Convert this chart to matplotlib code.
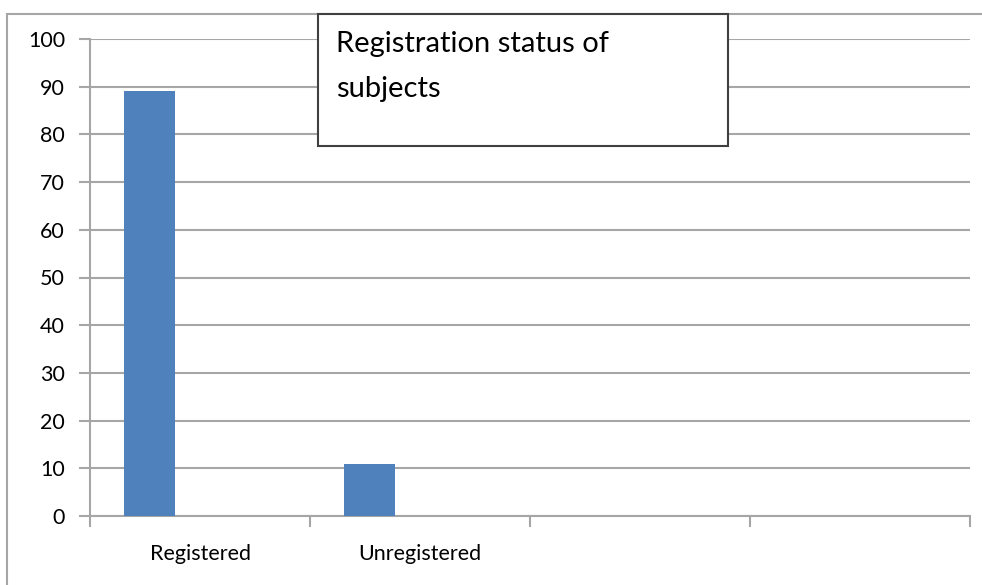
import matplotlib
matplotlib.use("Agg")
import matplotlib.pyplot as plt
from matplotlib.patches import Rectangle

# chart values
categories = ["Registered", "Unregistered", "", ""]
counts = [89, 11, None, None]
y_ticks = [0, 10, 20, 30, 40, 50, 60, 70, 80, 90, 100]
title_text = "Registration status of\nsubjects"

bar_color = "#4f81bd"
grid_color = "#a6a6a6"

plt.rcParams["font.family"] = ["Lato", "DejaVu Sans"]

fig = plt.figure(figsize=(9.82, 5.85), dpi=100)
W, H = 982, 585

# outer chart frame (cut off on the right and bottom)
fig.patches.append(Rectangle((7 / W, -0.1), 1.2, 1 - 14 / H + 0.1,
                             transform=fig.transFigure, fill=False,
                             edgecolor=grid_color, linewidth=1.5, zorder=0))

ax = fig.add_axes([90 / W, 1 - 516 / H, (970 - 90) / W, (516 - 39) / H])

xs = [i - 0.23 for i, v in enumerate(counts) if v is not None]
vals = [v for v in counts if v is not None]
ax.bar(xs, vals, width=0.232, color=bar_color, zorder=3)

ax.set_xlim(-0.5, len(categories) - 0.5)
ax.set_ylim(0, 100)
ax.set_yticks(y_ticks)
ax.yaxis.grid(True, color=grid_color, linewidth=1.5)
ax.set_axisbelow(True)

# category labels at slot centres, tick marks at slot boundaries
ax.set_xticks([i - 0.5 for i in range(len(categories) + 1)])
ax.set_xticklabels([])
ax.set_xticks(range(len(categories)), minor=True)
ax.set_xticklabels(categories, minor=True)
ax.tick_params(axis="x", which="minor", length=0, pad=20, labelsize=15.5)
ax.tick_params(axis="x", which="major", length=8, width=1.5, color=grid_color)
ax.tick_params(axis="y", length=8, width=1.5, color=grid_color, pad=10, labelsize=15.5)

for side in ["top", "right"]:
    ax.spines[side].set_visible(False)
for side in ["left", "bottom"]:
    ax.spines[side].set_color(grid_color)
    ax.spines[side].set_linewidth(1.5)

# title box drawn over the plot
box = Rectangle((318 / W, 1 - 146 / H), (728 - 318) / W, (146 - 14) / H,
                transform=fig.transFigure, facecolor="white",
                edgecolor="#404040", linewidth=1.5, zorder=10)
fig.patches.append(box)
fig.text(336 / W, 1 - 31 / H, title_text, fontsize=21, va="top", ha="left",
         linespacing=1.9, zorder=11)

fig.savefig("out.png", dpi=100)
